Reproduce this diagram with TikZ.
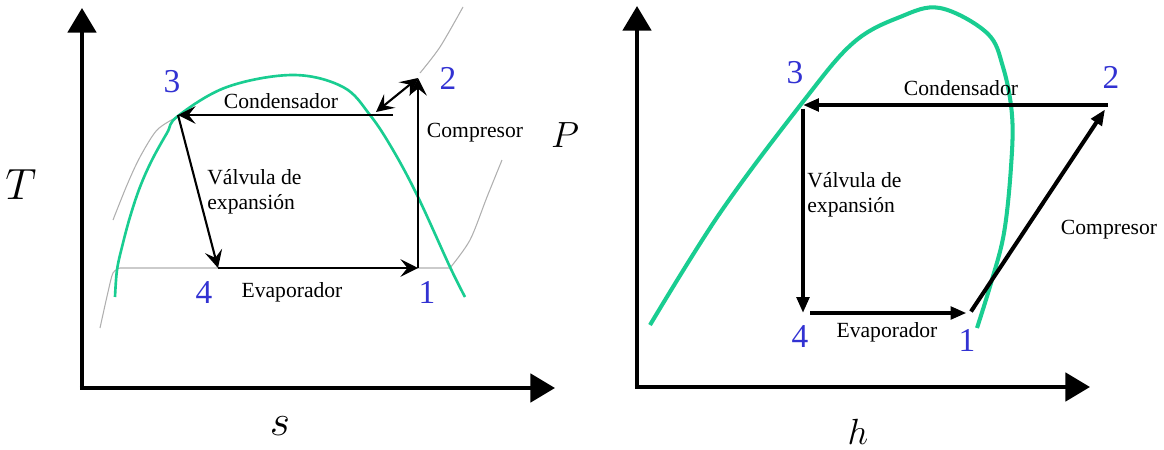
\documentclass[tikz,border=0pt]{standalone}
\usepackage{fontspec}
\setmainfont{Liberation Serif}
\usetikzlibrary{arrows.meta}
\definecolor{dome}{RGB}{25,205,145}
\definecolor{ptblue}{RGB}{50,50,210}
\definecolor{isobar}{RGB}{175,175,175}

\begin{document}
\begin{tikzpicture}[x=0.02cm, y=-0.02cm,
  axis/.style={line width=2.5pt, -{Triangle[length=14pt, width=16pt]}},
  cycleL/.style={line width=1.2pt},
  cycleR/.style={line width=2.3pt},
  tipL/.style={-{Stealth[length=10pt, width=10pt, inset=4pt]}},
  tipR/.style={-{Triangle[length=9pt, width=7pt]}},
  pt/.style={font=\fontsize{19}{22}\selectfont, text=ptblue},
  lbl/.style={font=\fontsize{12.3}{14.5}\selectfont},
  var/.style={font=\fontsize{22}{26}\selectfont}]
  \useasboundingbox (0,0) rectangle (1164,450);

  % T-s diagram
  \coordinate (Lo) at (82,388);
  \coordinate (Ly) at (82,8);
  \coordinate (Lx) at (555,388);
  \draw[axis] (Lo) -- (Ly);
  \draw[axis] ([xshift=-1.2pt]Lo) -- (Lx);
  % isobars
  \draw[isobar, line width=0.6pt] plot[smooth] coordinates {(100,328) (108,292) (113,273) (120,268)}
    -- (450,268) plot[smooth] coordinates {(450,268) (470,240) (487,197) (502,160)};
  \draw[isobar, line width=0.6pt] plot[smooth] coordinates {(113,220) (127,185) (140,157) (157,130) (177,117)};
  \draw[isobar, line width=0.6pt] plot[smooth] coordinates {(420,73) (440,47) (463,7)};
  % saturation dome
  \draw[dome, line width=1.5pt] plot[smooth, tension=0.6] coordinates {(115,297) (117,270) (122,247) (130,217)
    (140,187) (152,160) (167,133) (178,116) (227,87) (293,75) (343,87) (370,115) (393,150) (418,197)
    (450,267) (465,297)};
  % cycle
  \coordinate (L1) at (418,268);
  \coordinate (L2) at (418,78);
  \coordinate (L3) at (178,115);
  \coordinate (L4) at (218,268);
  \coordinate (Lc) at (393,115);
  \coordinate (La) at (376,112);
  \draw[cycleL, tipL] (Lc) -- (L3);
  \draw[cycleL, tipL] (L3) -- (L4);
  \draw[cycleL, tipL] (L4) -- (L1);
  \draw[cycleL, tipL] (L1) -- (L2);
  \draw[cycleL, {Stealth[length=10pt, width=10pt, inset=4pt]}-{Stealth[length=10pt, width=10pt, inset=4pt]}] (La) -- (L2);
  \node[pt] (n3L) at (172,82) {3};
  \node[pt] (n2L) at (448,78) {2};
  \node[pt] (n1L) at (427,292) {1};
  \node[pt] (n4L) at (204,293) {4};
  \node[lbl] (condL) at (281,101) {Condensador};
  \node[lbl] (compL) at (475,133) {Compresor};
  \node[lbl, align=left, anchor=west, inner sep=0pt] (valvL) at (207,192) {Válvula de\\expansión};
  \node[lbl] (evapL) at (292,292) {Evaporador};
  \node[var] (varP) at (565,135) {$P$};
  \node[var, font=\fontsize{23}{27}\selectfont] (varT) at (21,185) {$T$};
  \node[var, font=\fontsize{29}{33}\selectfont] (vars) at (280,426) {$s$};

  % P-h diagram
  \coordinate (Ro) at (637,387);
  \coordinate (Ry) at (637,6);
  \coordinate (Rx) at (1090,387);
  \draw[axis] (Ro) -- (Ry);
  \draw[axis] ([xshift=-1.2pt]Ro) -- (Rx);
  % saturation dome
  \draw[dome, line width=2.3pt] plot[smooth, tension=0.6] coordinates {(650,325) (720,213) (802,103) (853,43)
    (900,17) (940,8) (987,33) (1003,67) (1012,115) (1011,167) (1004,233) (991,283) (977,328)};
  % cycle
  \coordinate (R1) at (970,313);
  \coordinate (R2) at (1108,105);
  \coordinate (R3) at (803,105);
  \coordinate (R4) at (803,313);
  \draw[cycleR, tipR] (R2) -- (R3);
  \draw[cycleR, tipR, shorten <=2pt] (R3) -- (R4);
  \draw[cycleR, tipR, shorten <=4pt, shorten >=2pt] (R4) -- (R1);
  \draw[cycleR, tipR, shorten <=1pt, shorten >=3pt] (R1) -- (R2);
  \node[pt] (n3R) at (795,73) {3};
  \node[pt] (n2R) at (1111,77) {2};
  \node[pt] (n1R) at (967,340) {1};
  \node[pt] (n4R) at (800,337) {4};
  \node[lbl] (condR) at (961,88) {Condensador};
  \node[lbl] (compR) at (1109,230) {Compresor};
  \node[lbl, align=left, anchor=west, inner sep=0pt] (valvR) at (807,195) {Válvula de\\expansión};
  \node[lbl] (evapR) at (887,332) {Evaporador};
  \node[var] (varh) at (858,432) {$h$};
\end{tikzpicture}
\end{document}
